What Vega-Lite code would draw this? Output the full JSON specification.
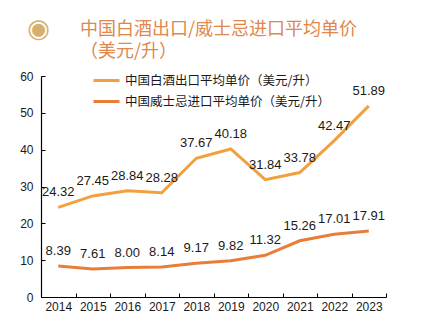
{
  "$schema": "https://vega.github.io/schema/vega-lite/v6.json",
  "width": 345,
  "height": 221,
  "autosize": {"type": "none"},
  "padding": {"left": 41, "top": 76, "right": 40, "bottom": 36},
  "background": "white",
  "title": {
    "text": ["中国白酒出口/威士忌进口平均单价", "（美元/升）"],
    "anchor": "start",
    "frame": "group",
    "orient": "top",
    "dx": 39,
    "dy": 56,
    "offset": 10,
    "font": "Noto Sans CJK SC",
    "fontSize": 18,
    "fontWeight": "normal",
    "lineHeight": 22,
    "color": "#E0874C"
  },
  "data": {
    "values": [
      {"year": "2014", "series": "中国白酒出口平均单价（美元/升）", "value": 24.32},
      {"year": "2015", "series": "中国白酒出口平均单价（美元/升）", "value": 27.45},
      {"year": "2016", "series": "中国白酒出口平均单价（美元/升）", "value": 28.84},
      {"year": "2017", "series": "中国白酒出口平均单价（美元/升）", "value": 28.28},
      {"year": "2018", "series": "中国白酒出口平均单价（美元/升）", "value": 37.67},
      {"year": "2019", "series": "中国白酒出口平均单价（美元/升）", "value": 40.18},
      {"year": "2020", "series": "中国白酒出口平均单价（美元/升）", "value": 31.84},
      {"year": "2021", "series": "中国白酒出口平均单价（美元/升）", "value": 33.78},
      {"year": "2022", "series": "中国白酒出口平均单价（美元/升）", "value": 42.47},
      {"year": "2023", "series": "中国白酒出口平均单价（美元/升）", "value": 51.89},
      {"year": "2014", "series": "中国威士忌进口平均单价（美元/升）", "value": 8.39},
      {"year": "2015", "series": "中国威士忌进口平均单价（美元/升）", "value": 7.61},
      {"year": "2016", "series": "中国威士忌进口平均单价（美元/升）", "value": 8.00},
      {"year": "2017", "series": "中国威士忌进口平均单价（美元/升）", "value": 8.14},
      {"year": "2018", "series": "中国威士忌进口平均单价（美元/升）", "value": 9.17},
      {"year": "2019", "series": "中国威士忌进口平均单价（美元/升）", "value": 9.82},
      {"year": "2020", "series": "中国威士忌进口平均单价（美元/升）", "value": 11.32},
      {"year": "2021", "series": "中国威士忌进口平均单价（美元/升）", "value": 15.26},
      {"year": "2022", "series": "中国威士忌进口平均单价（美元/升）", "value": 17.01},
      {"year": "2023", "series": "中国威士忌进口平均单价（美元/升）", "value": 17.91}
    ]
  },
  "encoding": {
    "x": {
      "field": "year",
      "type": "ordinal",
      "scale": {"paddingInner": 0, "paddingOuter": 0},
      "axis": {
        "title": null,
        "labelAngle": 0,
        "labelFont": "Liberation Sans",
        "labelFontSize": 12,
        "labelColor": "#1a1a1a",
        "labelPadding": 8,
        "tickBand": "extent",
        "tickSize": -4,
        "tickColor": "#000",
        "domainColor": "#000",
        "domainWidth": 1.2,
        "grid": false
      }
    },
    "y": {
      "field": "value",
      "type": "quantitative",
      "scale": {"domain": [0, 60], "nice": false},
      "axis": {
        "values": [0, 10, 20, 30, 40, 50, 60],
        "title": "◉",
        "titleAngle": 0,
        "titleX": -3,
        "titleY": -48,
        "titleAlign": "center",
        "titleBaseline": "middle",
        "titleFontSize": 26,
        "titleFontWeight": "normal",
        "titleFont": "DejaVu Sans",
        "titleColor": "#D6B06E",
        "labelFont": "Liberation Sans",
        "labelFontSize": 12,
        "labelColor": "#1a1a1a",
        "labelPadding": 12,
        "tickSize": -4,
        "tickColor": "#000",
        "domainColor": "#000",
        "domainWidth": 1.2,
        "grid": false
      }
    },
    "color": {
      "field": "series",
      "type": "nominal",
      "sort": ["中国白酒出口平均单价（美元/升）", "中国威士忌进口平均单价（美元/升）"],
      "scale": {"range": ["#F2A03D", "#E97D38"]},
      "legend": {
        "title": null,
        "orient": "none",
        "legendX": 51,
        "legendY": -10,
        "symbolType": "stroke",
        "symbolSize": 676,
        "symbolStrokeWidth": 3,
        "rowPadding": 0,
        "labelLimit": 0,
        "labelFont": "Noto Sans CJK SC",
        "labelFontSize": 12.5,
        "labelColor": "#1a1a1a",
        "labelOffset": 4
      }
    }
  },
  "layer": [
    {"mark": {"type": "line", "strokeWidth": 3}},
    {
      "mark": {"type": "text", "dy": -15, "font": "Liberation Sans", "fontSize": 13, "color": "#1a1a1a"},
      "encoding": {
        "text": {"field": "value", "type": "quantitative", "format": ".2f"},
        "color": {"value": "#1a1a1a"}
      }
    }
  ],
  "config": {"view": {"stroke": null}}
}
